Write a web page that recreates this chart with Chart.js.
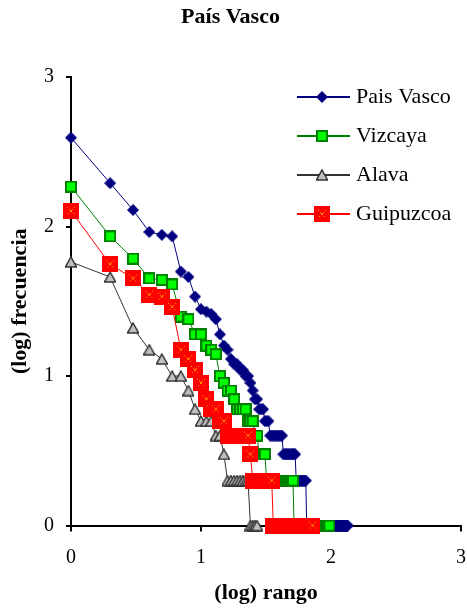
<!DOCTYPE html>
<html>
<head>
<meta charset="utf-8">
<script src="https://cdn.jsdelivr.net/npm/chart.js@4.4.0/dist/chart.umd.min.js"></script>
<style>
    html, body { margin: 0; padding: 0; background: #fff; }
    #wrap { position: relative; width: 467px; height: 608px; }
</style>
</head>
<body>
<div id="wrap"><canvas id="rankChart"></canvas></div>
<script>
// frequency per rank (rank = position in list, starting at 1)
const seriesNames = ['Pais Vasco', 'Vizcaya', 'Alava', 'Guipuzcoa'];

const paisVascoFreq = [
    393, 195, 129, 92, 88, 86, 50, 46, 34, 28,
    27, 26, 24, 19, 16, 15, 13, 12, 12, 11,
    11, 10, 10, 9, 8, 7, 7, 6, 6, 6,
    5, 5, 5, 4, 4, 4, 4, 4, 4, 4,
    4, 4, 3, 3, 3, 3, 3, 3, 3, 3,
    3, 3, 3, 2, 2, 2, 2, 2, 2, 2,
    2, 2, 2, 2, 1, 1, 1, 1, 1, 1,
    1, 1, 1, 1, 1, 1, 1, 1, 1, 1,
    1, 1, 1, 1, 1, 1, 1, 1, 1, 1,
    1, 1, 1, 1, 1, 1, 1, 1, 1, 1,
    1, 1, 1, 1, 1, 1, 1, 1, 1, 1,
    1, 1, 1, 1, 1, 1, 1, 1, 1, 1,
    1, 1, 1, 1, 1, 1, 1, 1, 1, 1,
    1, 1, 1, 1
];

const vizcayaFreq = [
    185, 86, 61, 45, 44, 41, 25, 24, 19, 19,
    16, 15, 14, 10, 9, 8, 8, 7, 6, 6,
    6, 6, 5, 5, 5, 4, 4, 3, 3, 3,
    3, 2, 2, 2, 2, 2, 2, 2, 2, 2,
    2, 2, 2, 2, 2, 2, 2, 2, 2, 2,
    2, 1, 1, 1, 1, 1, 1, 1, 1, 1,
    1, 1, 1, 1, 1, 1, 1, 1, 1, 1,
    1, 1, 1, 1, 1, 1, 1, 1, 1, 1,
    1, 1, 1, 1, 1, 1, 1, 1, 1, 1,
    1, 1, 1, 1, 1, 1, 1
];

const alavaFreq = [
    58, 46, 21, 15, 13, 10, 10, 8, 6, 5,
    5, 5, 4, 4, 3, 2, 2, 2, 2, 2,
    2, 2, 2, 1, 1, 1, 1
];

const guipuzcoaFreq = [
    127, 56, 45, 35, 34, 29, 15, 13, 11, 9,
    7, 6, 6, 5, 5, 4, 4, 4, 4, 4,
    4, 4, 4, 3, 2, 2, 2, 2, 2, 2,
    2, 2, 2, 2, 2, 1, 1, 1, 1, 1,
    1, 1, 1, 1, 1, 1, 1, 1, 1, 1,
    1, 1, 1, 1, 1, 1, 1, 1, 1, 1,
    1, 1, 1, 1, 1, 1, 1, 1, 1, 1,
    1, 1
];

// log axes: ticks at powers of ten, labelled with the exponent
const tickValues = [1, 10, 100, 1000];
const tickLabels = ['0', '1', '2', '3'];

function toPoints(freqs) {
    return freqs.map((f, i) => ({ x: i + 1, y: f }));
}

function makeMarker(kind) {
    const c = document.createElement('canvas');
    let ctx;
    if (kind == 'diamond') {
        c.width = 12; c.height = 12;
        ctx = c.getContext('2d');
        ctx.fillStyle = '#000080';
        ctx.beginPath();
        ctx.moveTo(6, 0); ctx.lineTo(12, 6); ctx.lineTo(6, 12); ctx.lineTo(0, 6);
        ctx.closePath();
        ctx.fill();
    } else if (kind == 'square') {
        c.width = 12; c.height = 12;
        ctx = c.getContext('2d');
        ctx.fillStyle = '#008000';
        ctx.fillRect(0, 0, 12, 12);
        ctx.fillStyle = '#00ff00';
        ctx.fillRect(2, 2, 8, 8);
    } else if (kind == 'triangle') {
        c.width = 12; c.height = 12;
        ctx = c.getContext('2d');
        ctx.fillStyle = '#c0c0c0';
        ctx.strokeStyle = '#333333';
        ctx.lineWidth = 1.5;
        ctx.beginPath();
        ctx.moveTo(6, 1); ctx.lineTo(11.5, 11); ctx.lineTo(0.5, 11);
        ctx.closePath();
        ctx.fill();
        ctx.stroke();
    } else {
        c.width = 16; c.height = 16;
        ctx = c.getContext('2d');
        ctx.fillStyle = '#ff0000';
        ctx.fillRect(0, 0, 16, 16);
        ctx.fillStyle = '#ff9900';
        for (let i = 4; i <= 11; i++) {
            if (i % 2 == 0 || i == 7 || i == 8) {
                ctx.fillRect(i, i, 1, 1);
                ctx.fillRect(15 - i, i, 1, 1);
            }
        }
    }
    return c;
}

const insideLegend = {
    id: 'insideLegend',
    afterDatasetsDraw(chart) {
        const ctx = chart.ctx;
        ctx.save();
        chart.data.datasets.forEach((ds, i) => {
            const y = 97 + i * 39;
            ctx.strokeStyle = ds.borderColor;
            ctx.lineWidth = 2;
            ctx.beginPath();
            ctx.moveTo(297, y);
            ctx.lineTo(350, y);
            ctx.stroke();
            const m = ds.pointStyle;
            ctx.drawImage(m, Math.round(322 - m.width / 2), Math.round(y - m.height / 2));
            ctx.fillStyle = '#000';
            ctx.font = '22px "Liberation Serif"';
            ctx.textBaseline = 'middle';
            ctx.textAlign = 'left';
            ctx.fillText(ds.label, 356, y);
        });
        ctx.restore();
    }
};

function makeDataset(label, freqs, color, marker, order) {
    return {
        label: label,
        data: toPoints(freqs),
        borderColor: color,
        borderWidth: 1,
        pointStyle: marker,
        pointRadius: 6,
        order: order,
        clip: false
    };
}

const axisGrid = (len) => ({
    drawOnChartArea: false,
    drawTicks: true,
    tickLength: len,
    color: '#000',
    lineWidth: 2
});

new Chart(document.getElementById('rankChart'), {
    type: 'line',
    data: {
        datasets: [
            makeDataset(seriesNames[0], paisVascoFreq, '#000080', makeMarker('diamond'), 4),
            makeDataset(seriesNames[1], vizcayaFreq, '#008000', makeMarker('square'), 3),
            makeDataset(seriesNames[2], alavaFreq, '#333333', makeMarker('triangle'), 2),
            makeDataset(seriesNames[3], guipuzcoaFreq, '#ff0000', makeMarker('xsquare'), 1)
        ]
    },
    options: {
        responsive: true,
        maintainAspectRatio: false,
        animation: false,
        layout: { autoPadding: false, padding: { left: 0, right: 6, top: 0, bottom: 0 } },
        plugins: {
            legend: { display: false },
            tooltip: { enabled: false },
            title: {
                display: true,
                text: 'País Vasco',
                color: '#000',
                font: { family: 'Liberation Serif', size: 22, weight: 'bold' },
                padding: { top: 4, bottom: 46.6 }
            }
        },
        scales: {
            x: {
                type: 'logarithmic',
                min: 1,
                max: 1000,
                afterBuildTicks: scale => { scale.ticks = tickValues.map(v => ({ value: v })); },
                afterFit: scale => {
                    scale.height = 82.4;
                    scale.paddingLeft = 0;
                    scale.paddingRight = 0;
                },
                ticks: {
                    autoSkip: false,
                    maxRotation: 0,
                    padding: 14,
                    color: '#000',
                    font: { family: 'Liberation Serif', size: 20 },
                    callback: (value, index) => tickLabels[index]
                },
                grid: axisGrid(6),
                border: { display: true, color: '#000', width: 2 },
                title: {
                    display: true,
                    text: '(log) rango',
                    color: '#000',
                    font: { family: 'Liberation Serif', size: 22, weight: 'bold' },
                    padding: { top: 0, bottom: 1 }
                }
            },
            y: {
                type: 'logarithmic',
                min: 1,
                max: 1000,
                afterBuildTicks: scale => { scale.ticks = tickValues.map(v => ({ value: v })); },
                afterFit: scale => { scale.width = 71; },
                ticks: {
                    autoSkip: false,
                    padding: 12,
                    color: '#000',
                    font: { family: 'Liberation Serif', size: 20 },
                    callback: (value, index) => tickLabels[index]
                },
                grid: axisGrid(5),
                border: { display: true, color: '#000', width: 2 },
                title: {
                    display: true,
                    text: '(log) frecuencia',
                    color: '#000',
                    font: { family: 'Liberation Serif', size: 22, weight: 'bold' },
                    padding: { top: 7, bottom: 0 }
                }
            }
        }
    },
    plugins: [insideLegend]
});
</script>
</body>
</html>
